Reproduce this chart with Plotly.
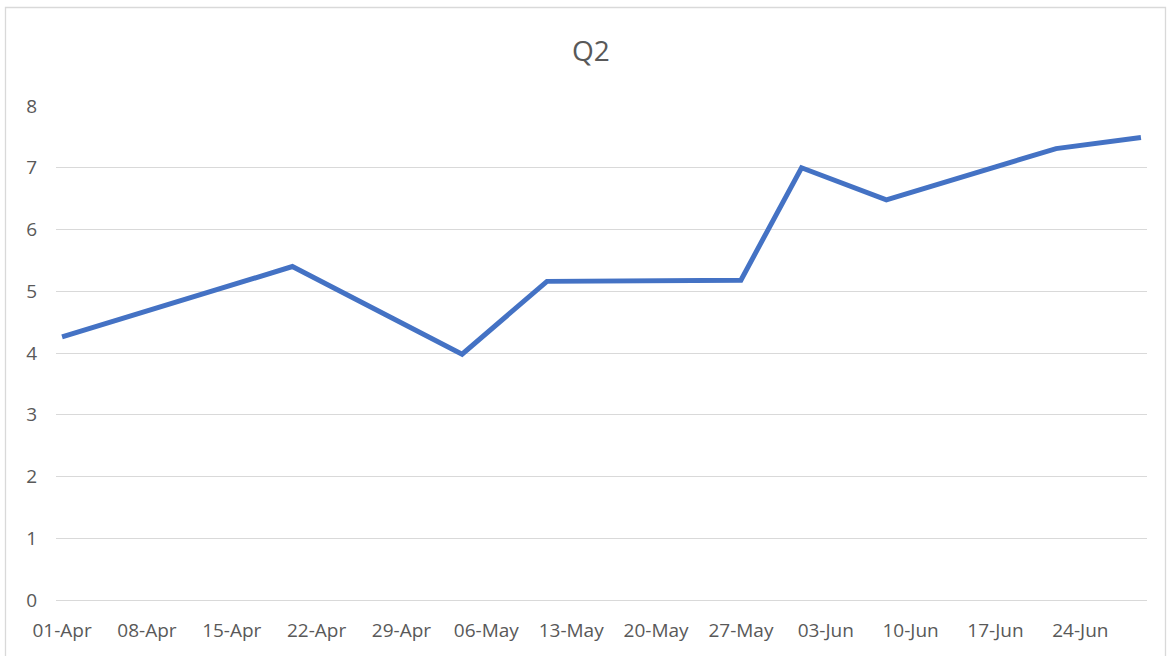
import plotly.graph_objects as go

dates = ["2024-04-01", "2024-04-20", "2024-05-04", "2024-05-11", "2024-05-27",
         "2024-06-01", "2024-06-08", "2024-06-22", "2024-06-29"]
values = [4.26, 5.40, 3.98, 5.16, 5.18, 7.0, 6.48, 7.31, 7.49]
title_text = "Q2"

W, H = 1167, 656
L, R, T, B = 56, 20, 106, 56
pw, ph = W - L - R, H - T - B

def px_to_paper_x(px):
    return (px - L) / pw

def px_to_paper_y(py):
    return (H - B - py) / ph

font_family = "Open Sans, Liberation Sans, sans-serif"
tick_color = "#595959"

fig = go.Figure(go.Scatter(
    x=dates, y=values, mode="lines",
    line=dict(color="#4472C4", width=5),
    hoverinfo="x+y",
))

fig.update_layout(
    width=W, height=H,
    margin=dict(l=L, r=R, t=T, b=B),
    paper_bgcolor="white", plot_bgcolor="white",
    showlegend=False,
    title=dict(text=title_text, x=591 / W, xanchor="center",
               y=1 - 51 / H, yanchor="middle",
               font=dict(family=font_family, size=28, color=tick_color)),
    xaxis=dict(
        type="date",
        range=["2024-03-31 12:00", "2024-06-29 12:00"],
        tick0="2024-04-01", dtick=7 * 24 * 3600 * 1000,
        tickformat="%d-%b",
        showgrid=False, zeroline=False, showline=False,
        ticks="", ticklabelstandoff=17,
        tickfont=dict(family=font_family, size=19, color=tick_color),
    ),
    yaxis=dict(
        range=[0, 8], dtick=1,
        showgrid=True, gridcolor="#d9d9d9", gridwidth=1.3,
        zeroline=True, zerolinecolor="#d9d9d9", zerolinewidth=1.3,
        showline=False,
        ticks="", ticklabelstandoff=18,
        tickfont=dict(family=font_family, size=19, color=tick_color),
    ),
    shapes=[
        dict(type="rect", xref="paper", yref="paper", layer="below",
             x0=px_to_paper_x(5.5), x1=px_to_paper_x(1165.5),
             y0=px_to_paper_y(670), y1=px_to_paper_y(7.5),
             line=dict(color="#d9d9d9", width=1.3)),
    ],
)

fig.write_html("out.html", config={"displayModeBar": False},
               post_script="document.body.style.margin='0';")
